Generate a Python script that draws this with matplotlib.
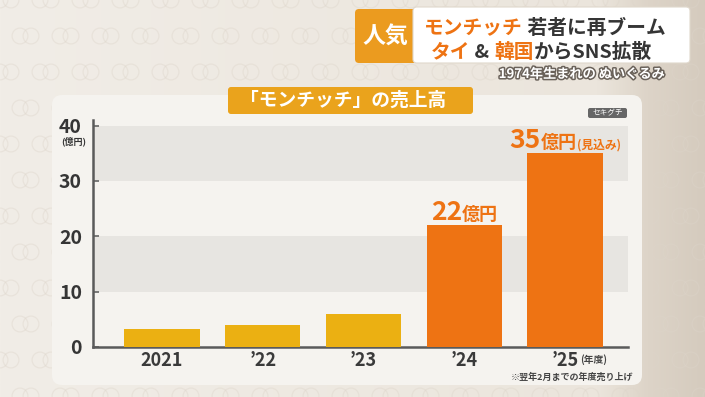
import numpy as np
import matplotlib.pyplot as plt
from matplotlib.patches import FancyBboxPatch
from matplotlib.colors import LinearSegmentedColormap
import matplotlib.patheffects as pe

plt.rcParams['font.family'] = ['Noto Sans CJK JP', 'DejaVu Sans']

# data (億円)
years = ['2021', '’22', '’23', '’24', '’25']
sales = [3.3, 3.9, 5.9, 22, 35]
is_recent = [False, False, False, True, True]
value_notes = {3: '', 4: '(見込み)'}
y_ticks = [0, 10, 20, 30, 40]

YELLOW = '#ebb012'
ORANGE = '#ee7313'
DARK = '#353535'

W, H = 705, 397
fig = plt.figure(figsize=(W / 100, H / 100), dpi=100)

# background layer in pixel coords
bg = fig.add_axes([0, 0, 1, 1])
bg.set_xlim(0, W)
bg.set_ylim(H, 0)
bg.axis('off')
cmap = LinearSegmentedColormap.from_list(
    'bg', [(0, '#f1ede7'), (0.85, '#ebe5dc'), (0.92, '#ddd4c8'), (1, '#d5cbbe')])
bg.imshow(np.linspace(0, 1, 256)[None, :], extent=[0, W, H, 0],
          aspect='auto', cmap=cmap, zorder=0)

# faint ring texture behind everything
gx, gy = np.meshgrid(np.arange(0, W + 40, 40), np.arange(0, H + 40, 36))
gx = gx + (np.arange(gy.shape[0])[:, None] % 2) * 20
for dx in (0, 11):
    bg.scatter(gx.ravel() + dx, gy.ravel(), s=130, facecolors='none',
               edgecolors='#ddd5ca', linewidths=0.9, alpha=0.4, zorder=0.5)

# chart panel
bg.add_patch(FancyBboxPatch((52, 95), 590, 290, boxstyle='round,pad=0,rounding_size=10',
                            fc='#f5f3ef', ec='none', zorder=1))

# header banner
bg.add_patch(FancyBboxPatch((355, 9), 62, 54, boxstyle='round,pad=0,rounding_size=4',
                            fc='#eb9b1f', ec='none', zorder=2))
bg.add_patch(FancyBboxPatch((413, 7), 277, 56, boxstyle='round,pad=0,rounding_size=4',
                            fc='white', ec='#e0d8cc', lw=0.8, zorder=3))
bg.text(385, 37, '人気', ha='center', va='center', fontsize=16.5, fontweight='bold',
        color='white', zorder=4)

renderer = fig.canvas.get_renderer()


def line_of(x, y, parts, size):
    # draw coloured pieces one after the other (bg data units are pixels)
    for s, c in parts:
        t = bg.text(x, y, s, ha='left', va='baseline', fontsize=size,
                    fontweight='bold', color=c, zorder=4)
        x += t.get_window_extent(renderer).width


line_of(424, 34, [('モンチッチ', ORANGE), (' 若者に再ブーム', DARK)], 14.2)
line_of(431, 57.5, [('タイ', ORANGE), (' & ', DARK), ('韓国', ORANGE), ('からSNS拡散', DARK)], 14.2)

bg.text(582, 74, '1974年生まれの ぬいぐるみ', ha='center', va='center', fontsize=9.5,
        fontweight='bold', color='white', zorder=4,
        path_effects=[pe.withStroke(linewidth=2.2, foreground='#6a625a')])

# chart title
bg.add_patch(FancyBboxPatch((228, 87), 245, 27, boxstyle='round,pad=0,rounding_size=3',
                            fc='#eaa31c', ec='none', zorder=2))
bg.text(343, 100.5, '「モンチッチ」の売上高', ha='center', va='center', fontsize=13.5,
        fontweight='bold', color='white', zorder=4)

# source tag
bg.add_patch(FancyBboxPatch((588, 108), 39, 10, boxstyle='round,pad=0,rounding_size=2',
                            fc='#666666', ec='none', zorder=2))
bg.text(607.5, 113, 'セキグチ', ha='center', va='center', fontsize=5.5,
        color='white', zorder=4)

# small annotations
bg.text(74, 141, '(億円)', ha='center', va='center', fontsize=6.5,
        fontweight='bold', color=DARK, zorder=4)
bg.text(594, 360, '(年度)', ha='center', va='center', fontsize=7,
        fontweight='bold', color='#444444', zorder=4)
bg.text(633, 377, '※翌年2月までの年度売り上げ', ha='right', va='center', fontsize=6.5,
        fontweight='bold', color='#444444', zorder=4)

# main chart
ax = fig.add_axes([93 / W, 1 - 347 / H, (628 - 93) / W, (347 - 120) / H])
ax.patch.set_visible(False)
x = np.arange(len(years))
ax.axhspan(10, 20, color='#e7e5e1', lw=0, zorder=0)
ax.axhspan(30, 40, color='#e7e5e1', lw=0, zorder=0)
ax.bar(x, sales, width=0.745, color=[ORANGE if r else YELLOW for r in is_recent], zorder=3)
ax.set_xlim(-0.685, 4.625)
ax.set_ylim(0, 41)

ax.set_yticks(y_ticks)
ax.set_yticklabels([str(t) for t in y_ticks], fontsize=14, fontweight='bold', color=DARK)
ax.tick_params(axis='y', direction='in', length=4, width=1.2, color='#666666', pad=8)
ax.set_xticks(x)
ax.set_xticklabels(years, fontsize=13, fontweight='bold', color='#3a3a3a')
ax.tick_params(axis='x', length=0, pad=3)
for side in ['top', 'right']:
    ax.spines[side].set_visible(False)
for side in ['left', 'bottom']:
    ax.spines[side].set_color('#5a5a5a')
    ax.spines[side].set_linewidth(1.8)

# value labels above the orange bars, centred on the bar
for i, note in value_notes.items():
    parts = [(f'{sales[i]:g}', 19), ('億円', 13)]
    if note:
        parts.append((note, 8.5))
    texts = [ax.annotate(s, (x[i], sales[i]), xytext=(0, 3.5), textcoords='offset points',
                         ha='left', va='baseline', fontsize=fs, fontweight='bold',
                         color=ORANGE, zorder=5) for s, fs in parts]
    widths = [t.get_window_extent(renderer).width for t in texts]
    cur = -sum(widths) / 2
    for t, w in zip(texts, widths):
        t.xyann = (cur * 72 / fig.dpi, 3.5)
        cur += w

fig.savefig('out.png', dpi=100)
